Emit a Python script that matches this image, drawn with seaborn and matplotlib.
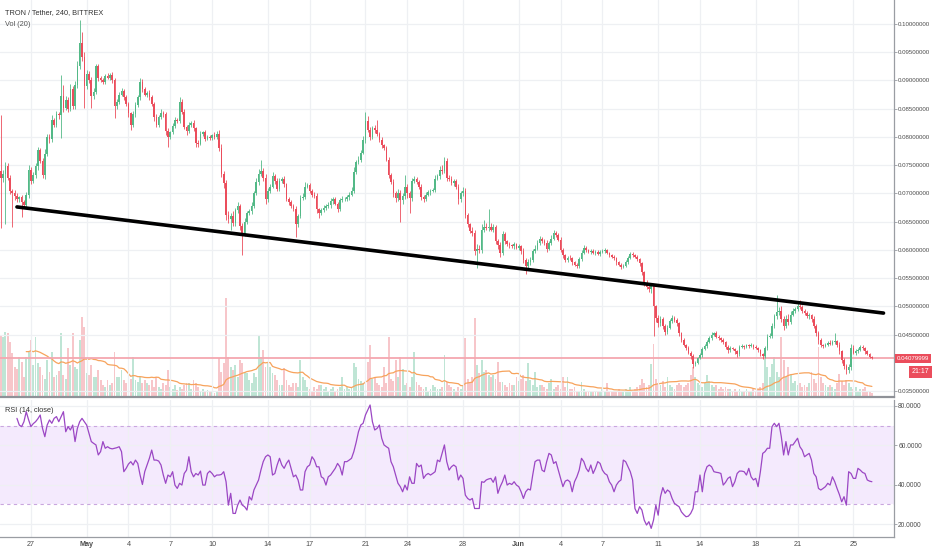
import numpy as np
import pandas as pd
import matplotlib
matplotlib.use("Agg")
import matplotlib.pyplot as plt
import seaborn as sns

# TRON / Tether 4h candles (prices in units of 0.0001 USDT)
start_time = "2018-04-24 20:00"
first_open = 740
closes = [
    727, 735, 748, 728, 705, 700, 696, 690, 693, 684,
    680, 697, 742, 722, 733, 748, 776, 758, 732, 770,
    800, 796, 830, 822, 840, 838, 872, 852, 866, 850,
    885, 855, 892, 925, 966, 942, 890, 912, 900, 872,
    880, 925, 905, 900, 898, 908, 905, 910, 900, 855,
    862, 875, 882, 870, 858, 842, 822, 840, 856, 870,
    898, 885, 875, 878, 870, 858, 835, 822, 835, 843,
    840, 810, 800, 808, 820, 830, 828, 862, 845, 818,
    810, 822, 825, 815, 790, 788, 805, 808, 797, 800,
    798, 803, 800, 806, 780, 735, 718, 662, 655, 660,
    648, 670, 678, 642, 630, 650, 665, 668, 678, 700,
    720, 735, 740, 728, 690, 705, 712, 730, 722, 708,
    722, 725, 716, 690, 684, 678, 672, 645, 660, 692,
    694, 712, 714, 705, 698, 696, 672, 665, 670, 674,
    678, 680, 686, 690, 682, 672, 688, 690, 690, 693,
    698, 705, 738, 755, 760, 772, 795, 828, 812, 800,
    815, 812, 805, 795, 785, 780, 760, 732, 720, 700,
    692, 700, 688, 695, 712, 700, 692, 722, 725, 720,
    712, 694, 690, 698, 702, 705, 706, 726, 730, 742,
    740, 758, 728, 725, 718, 722, 712, 690, 700, 705,
    662, 645, 634, 630, 598, 602, 600, 636, 640, 638,
    641, 636, 640, 615, 608, 595, 628, 615, 610, 608,
    606, 610, 604, 606, 598, 582, 572, 578, 582, 598,
    602, 612, 620, 616, 612, 602, 612, 620, 630, 627,
    618, 600, 590, 582, 586, 585, 578, 574, 572, 584,
    595, 604, 600, 596, 598, 594, 597, 592, 596, 598,
    600, 594, 590, 587, 585, 578, 574, 570, 572, 578,
    586, 593, 590, 587, 584, 576, 560, 542, 535, 530,
    536, 500, 480, 470, 478, 465, 455, 462, 474, 480,
    476, 470, 452, 440, 432, 426, 418, 412, 398, 400,
    408, 414, 425, 430, 437, 444, 450, 452, 446, 444,
    440, 436, 428, 422, 426, 424, 420, 415, 428, 430,
    428, 431, 430, 432, 428, 426, 422, 416, 412, 426,
    446, 448, 465, 482, 490, 492, 478, 466, 478, 472,
    485, 492, 495, 500, 498, 492, 488, 482, 484, 478,
    466, 452, 440, 432, 430, 432, 435, 434, 436, 438,
    432, 420, 405, 394, 388, 392, 426, 418, 420, 422,
    428, 426, 420, 416, 410, 408,
]
upper_wick = [
    99, 6, 8, 5, 4, 3, 6, 4, 3, 5, 4, 6, 8, 5, 4, 6, 7, 5, 4, 8,
    6, 5, 9, 4, 6, 5, 38, 20, 6, 5, 8, 6, 7, 9, 41, 20, 8, 6, 5, 7,
    6, 5, 4, 3, 5, 4, 6, 3, 5, 4, 6, 5, 4, 3, 5, 4, 3, 6, 5, 4,
    7, 5, 4, 3, 5, 4, 3, 5, 4, 6, 3, 4, 5, 3, 4, 5, 3, 9, 5, 4,
    3, 4, 3, 5, 3, 4, 5, 3, 4, 3, 4, 3, 5, 4, 6, 8, 5, 6, 7, 5,
    8, 5, 6, 4, 5, 6, 4, 5, 6, 5, 8, 9, 19, 5, 6, 4, 5, 8, 4, 5,
    6, 4, 5, 3, 4, 5, 3, 6, 4, 5, 6, 9, 5, 4, 3, 4, 5, 3, 4, 5,
    3, 4, 5, 3, 4, 3, 4, 5, 3, 4, 5, 6, 8, 5, 6, 5, 7, 17, 9, 6,
    5, 6, 18, 4, 5, 3, 4, 5, 4, 6, 5, 8, 6, 5, 21, 4, 5, 6, 5, 4,
    3, 4, 3, 5, 4, 3, 4, 6, 5, 6, 8, 6, 5, 4, 5, 3, 4, 5, 4, 6,
    5, 4, 3, 6, 5, 8, 6, 9, 12, 8, 32, 6, 5, 4, 5, 6, 5, 4, 3, 4,
    3, 4, 3, 4, 3, 5, 4, 6, 5, 4, 6, 5, 4, 3, 4, 5, 4, 6, 5, 4,
    3, 4, 3, 2, 3, 4, 3, 2, 3, 4, 5, 4, 3, 2, 3, 4, 3, 2, 3, 4,
    3, 2, 3, 2, 3, 2, 3, 2, 3, 4, 3, 4, 3, 2, 3, 2, 3, 2, 4, 3,
    5, 4, 3, 4, 5, 3, 4, 5, 3, 4, 3, 4, 3, 2, 3, 2, 3, 2, 3, 4,
    3, 4, 3, 4, 3, 4, 5, 3, 4, 3, 2, 3, 2, 3, 4, 2, 3, 2, 3, 4,
    2, 3, 2, 3, 2, 3, 2, 3, 2, 4, 5, 4, 6, 5, 30, 6, 8, 5, 6, 9,
    6, 5, 4, 5, 11, 5, 4, 3, 4, 3, 4, 3, 4, 3, 2, 3, 4, 5, 4, 14,
    3, 4, 3, 4, 3, 6, 8, 5, 4, 5, 4, 3, 2, 3, 2, 2,
]
lower_wick = [
    88, 6, 90, 5, 6, 60, 8, 5, 6, 26, 5, 4, 6, 5, 4, 5, 6, 4, 5, 6,
    4, 6, 5, 4, 5, 6, 40, 8, 5, 6, 4, 5, 6, 5, 4, 8, 39, 6, 5, 21,
    5, 4, 6, 3, 5, 4, 3, 5, 4, 21, 6, 4, 3, 5, 4, 6, 10, 5, 4, 3,
    4, 5, 3, 4, 5, 3, 6, 5, 4, 3, 5, 6, 18, 4, 3, 5, 4, 3, 5, 4,
    6, 3, 4, 5, 7, 6, 3, 4, 5, 3, 4, 3, 4, 3, 5, 6, 8, 9, 8, 20,
    6, 5, 4, 7, 39, 5, 4, 3, 5, 4, 3, 5, 4, 6, 8, 5, 4, 3, 5, 4,
    3, 4, 5, 4, 5, 3, 4, 22, 5, 4, 3, 4, 3, 4, 5, 4, 6, 8, 4, 3,
    4, 3, 5, 4, 3, 5, 4, 3, 4, 3, 4, 3, 5, 4, 3, 4, 3, 5, 4, 6,
    4, 5, 3, 4, 5, 4, 3, 5, 4, 6, 8, 5, 38, 6, 5, 8, 27, 5, 4, 3,
    4, 5, 6, 4, 3, 4, 3, 4, 3, 4, 5, 4, 6, 3, 4, 5, 4, 8, 5, 4,
    6, 5, 4, 5, 8, 31, 6, 5, 4, 3, 4, 3, 4, 5, 6, 8, 5, 4, 3, 4,
    3, 4, 3, 4, 5, 6, 14, 5, 4, 3, 4, 3, 4, 3, 4, 5, 3, 4, 3, 4,
    3, 4, 5, 3, 4, 3, 4, 3, 5, 4, 3, 2, 3, 2, 3, 2, 3, 2, 3, 2,
    3, 2, 3, 2, 3, 4, 3, 4, 3, 2, 3, 2, 3, 2, 3, 4, 5, 6, 5, 4,
    6, 52, 8, 6, 5, 6, 5, 4, 3, 4, 3, 4, 5, 4, 3, 4, 3, 5, 8, 4,
    3, 2, 3, 2, 3, 2, 3, 2, 3, 4, 3, 2, 3, 4, 3, 2, 4, 5, 3, 2,
    3, 2, 3, 2, 3, 2, 3, 4, 5, 3, 4, 3, 4, 3, 4, 5, 6, 8, 4, 5,
    4, 3, 4, 3, 2, 3, 4, 3, 4, 5, 4, 5, 6, 4, 3, 2, 3, 2, 3, 2,
    4, 5, 6, 5, 8, 6, 4, 3, 4, 3, 2, 3, 4, 3, 2, 2,
]
volumes = [
    62, 60, 65, 64, 55, 44, 30, 28, 40, 35, 20, 40, 45, 57, 32, 60, 34, 30, 22, 18,
    37, 25, 45, 20, 22, 26, 64, 22, 18, 49, 32, 64, 30, 28, 57, 80, 70, 24, 22, 32,
    20, 20, 27, 17, 12, 10, 17, 12, 14, 45, 20, 20, 27, 17, 14, 24, 18, 40, 17, 15,
    20, 14, 17, 14, 12, 17, 10, 20, 10, 8, 14, 12, 27, 10, 8, 12, 7, 10, 8, 12,
    14, 14, 8, 17, 14, 10, 6, 8, 5, 7, 6, 5, 4, 6, 39, 25, 34, 99, 40, 30,
    27, 32, 20, 37, 34, 25, 24, 17, 14, 24, 20, 62, 40, 47, 30, 34, 30, 24, 22, 17,
    12, 12, 29, 17, 12, 10, 14, 14, 10, 37, 20, 17, 10, 8, 6, 10, 8, 12, 12, 8,
    10, 6, 8, 10, 6, 8, 10, 20, 8, 10, 8, 10, 34, 30, 18, 16, 14, 54, 35, 52,
    18, 20, 14, 12, 10, 30, 14, 60, 18, 16, 37, 20, 40, 28, 12, 14, 10, 20, 45, 15,
    12, 10, 8, 10, 6, 8, 12, 10, 8, 8, 10, 42, 15, 12, 10, 8, 6, 10, 8, 12,
    59, 18, 14, 20, 79, 32, 24, 37, 25, 27, 22, 20, 22, 18, 35, 15, 15, 12, 10, 14,
    12, 12, 20, 16, 18, 22, 16, 34, 17, 12, 25, 10, 12, 12, 10, 8, 14, 18, 8, 10,
    12, 8, 20, 10, 20, 8, 8, 10, 6, 6, 15, 8, 6, 5, 5, 6, 5, 6, 6, 8,
    6, 14, 6, 5, 5, 6, 8, 5, 6, 8, 6, 10, 6, 8, 10, 12, 18, 14, 10, 12,
    33, 53, 18, 14, 12, 16, 10, 20, 12, 10, 8, 12, 14, 12, 10, 12, 14, 22, 30, 20,
    14, 12, 10, 14, 22, 16, 12, 10, 12, 8, 10, 8, 10, 8, 8, 6, 8, 6, 8, 6,
    6, 8, 5, 6, 8, 6, 8, 10, 14, 43, 30, 20, 33, 40, 25, 20, 60, 37, 20, 30,
    22, 14, 16, 12, 14, 10, 12, 10, 14, 25, 18, 14, 50, 20, 14, 12, 10, 12, 10, 8,
    14, 23, 16, 12, 17, 14, 10, 8, 10, 6, 8, 8, 10, 6, 5, 4,
]
rsi_values = [
    73.7, 70.3, 69.5, 72.0, 77.1, 73.0, 69.5, 71.0, 72.0, 73.5, 75.4, 68.6, 64.4,
    70.3, 72.9, 71.2, 73.7, 74.6, 72.0, 74.6, 77.1, 66.9, 69.5,
    67.8, 70.3, 61.9, 68.6, 72.0, 73.7, 72.0, 70.3, 66.0, 61.9, 61.0, 60.2,
    55.1, 56.8, 61.9, 58.5, 59.3, 58.5, 58.2, 58.5, 58.8, 59.3, 56.8, 46.6,
    48.3, 50.5, 51.7, 50.0, 52.5, 50.8, 44.9, 40.1, 46.6, 50.0, 53.4,
    57.6, 52.5, 52.5, 52.0, 50.0, 44.9, 40.7, 44.9, 44.0, 46.6,
    39.8, 38.1, 40.7, 39.8, 45.7, 47.4, 54.2, 46.6, 44.0, 45.7,
    44.9, 46.9, 39.8, 39.8, 45.7, 46.9, 45.7, 44.0, 44.9, 44.9,
    45.2, 46.6, 41.5, 29.6, 35.6, 25.4, 25.4, 29.6, 32.2, 29.6,
    28.8, 27.1, 33.9, 32.2, 37.3, 39.8, 42.4, 47.4, 51.7, 54.2,
    55.1, 54.2, 44.9, 45.7, 50.0, 53.4, 50.0, 48.3, 50.8, 52.5,
    48.3, 44.0, 44.9, 42.4, 37.3, 37.3, 46.6, 49.1, 50.0, 54.2,
    52.5, 49.1, 49.1, 44.0, 43.2, 39.8, 44.0, 44.9, 46.6, 48.3,
    50.8, 49.1, 44.9, 51.7, 51.7, 52.5, 53.4, 56.8, 61.5, 66.9, 70.3,
    71.2, 75.4, 78.0, 80.5, 72.0, 67.8, 68.6, 70.3, 63.6, 60.2,
    59.3, 58.5, 51.7, 49.1, 45.0, 40.7, 39.0, 36.4, 39.8, 37.3, 44.0,
    40.7, 40.7, 50.8, 49.1, 50.0, 43.2, 44.9, 45.7, 44.9, 45.7,
    46.6, 52.5, 51.7, 55.9, 60.2, 51.7, 47.4, 49.1, 50.0, 49.1,
    42.4, 44.9, 43.2, 34.7,
    33.0, 32.2, 33.0, 27.9, 27.9, 27.9, 41.5, 41.2, 42.4,
    42.9, 43.2, 41.2, 44.0, 35.6, 39.0, 41.5, 44.9, 39.8, 40.7,
    40.1, 41.5, 39.8, 39.0, 36.4, 33.0, 36.4, 37.8, 37.3, 44.9,
    51.7, 52.5, 52.5, 47.4, 46.6, 51.7, 55.9, 55.1, 50.8, 51.7,
    47.4, 43.2, 39.0, 41.8, 42.4, 41.5, 36.4, 41.5, 44.0, 47.4,
    53.4, 51.7, 48.3, 46.6, 50.0, 45.7, 48.3, 51.7, 50.8, 47.4,
    45.7, 44.9, 41.5, 39.8, 36.4, 39.8, 41.5, 42.4, 52.5, 51.7,
    49.1, 46.6, 42.4, 27.9, 25.4, 28.8, 27.1, 22.0, 19.5, 21.2,
    17.8, 22.0, 29.6, 24.5, 33.9, 38.5, 35.6, 37.3, 36.4, 33.0,
    30.5, 29.6, 28.8, 26.2, 24.8, 23.7, 24.0, 25.4, 27.9, 36.4, 36.4, 44.9,
    36.4, 45.7, 49.1, 50.0, 49.1, 46.6, 46.3, 46.1, 45.7, 39.8, 41.2,
    43.2, 44.0, 39.0, 41.5, 45.7, 46.9, 46.9, 46.6, 44.9, 48.3,
    44.0, 42.4, 43.2, 39.0, 46.6, 55.9, 56.8, 58.5, 58.5, 69.5,
    71.2, 69.5, 71.2, 64.4, 55.1, 61.9, 55.1, 60.2, 60.2, 61.9,
    63.6, 59.3, 57.6, 54.2, 55.1, 55.9, 52.5, 45.7, 44.0, 38.1,
    37.3, 38.1, 39.0, 40.7, 39.8, 44.0, 41.5, 38.1, 35.0, 31.3, 33.9,
    29.6, 46.6, 45.7, 43.2, 43.2, 48.3, 47.4, 46.2, 45.7, 42.4,
    41.8, 41.5,
]
tick_dates = ["2018-04-27", "2018-05-01", "2018-05-04", "2018-05-07", "2018-05-10",
              "2018-05-14", "2018-05-17", "2018-05-21", "2018-05-24", "2018-05-28",
              "2018-06-01", "2018-06-04", "2018-06-07", "2018-06-11", "2018-06-14",
              "2018-06-18", "2018-06-21", "2018-06-25"]
tick_labels = ["27", "May", "4", "7", "10", "14", "17", "21", "24", "28",
               "Jun", "4", "7", "11", "14", "18", "21", "25"]
trend_times = ["2018-04-26 00:00", "2018-06-27 04:00"]
trend_prices = [0.0676, 0.0488]
price_label = "0.04079999"
countdown = "21:17"

assert len(closes) == len(upper_wick) == len(lower_wick) == len(volumes), (
    len(closes), len(upper_wick), len(lower_wick), len(volumes))

t0 = pd.Timestamp(start_time)
step = pd.Timedelta("4h")
df = pd.DataFrame({"time": pd.date_range(t0, periods=len(closes), freq="4h")})
df["x"] = np.arange(len(df))
df["close"] = np.array(closes) / 1e4
df["open"] = df["close"].shift(1).fillna(first_open / 1e4)
df["high"] = np.maximum(df["open"], df["close"]) + np.array(upper_wick) / 1e4
df["low"] = np.minimum(df["open"], df["close"]) - np.array(lower_wick) / 1e4
df["up"] = df["close"] >= df["open"]
df["volume"] = volumes
df["vol_ma"] = df["volume"].rolling(20, min_periods=12).mean()

n = len(df)
rsi_df = pd.DataFrame({"x": np.arange(n - len(rsi_values), n), "rsi": rsi_values})

def to_x(ts):
    return (pd.Timestamp(ts) - t0) / step

UP, DOWN = "#53b987", "#eb4d5c"
UP_VOL, DOWN_VOL = "#bfe5d5", "#f7c6ca"
GRID = "#eef0f3"
TXT = "#4c4c4c"
AXIS_FS = 4.4

sns.set_theme(style="white")
plt.rcParams["font.family"] = ["Liberation Sans", "DejaVu Sans"]

fig = plt.figure(figsize=(9.32, 5.5), dpi=100)
ax = fig.add_axes([0, 0.2782, 0.9592, 0.7218])
axv = ax.twinx()
ax.set_zorder(axv.get_zorder() + 1)
ax.patch.set_visible(False)

# volume
vcol = np.where(df["up"], UP_VOL, DOWN_VOL)
axv.bar(df["x"], df["volume"], width=0.8, color=vcol, linewidth=0)
sns.lineplot(data=df, x="x", y="vol_ma", ax=axv, color="#f7a35c", linewidth=0.9)
axv.set_ylim(0, df["volume"].max() * 4.0)
axv.set_yticks([])
axv.set_ylabel("")
for s in axv.spines.values():
    s.set_visible(False)

# candles
ccol = np.where(df["up"], UP, DOWN)
ax.vlines(df["x"], df["low"], df["high"], colors=ccol, linewidth=0.6, zorder=3)
body = np.maximum((df["close"] - df["open"]).abs(), 0.00002)
ax.bar(df["x"], body, bottom=np.minimum(df["open"], df["close"]), width=0.7,
       color=ccol, linewidth=0, zorder=3)

last = df["close"].iloc[-1]
ax.axhline(last, color="#f4a7b0", linewidth=1.3, zorder=2)
ax.plot([to_x(t) for t in trend_times], trend_prices, color="black",
        linewidth=2.6, solid_capstyle="round", zorder=4)

xpos = [to_x(d) for d in tick_dates]
ax.set_xlim(-0.3, 384.5)
ax.set_ylim(0.03394, 0.10425)
yt = [v / 1000 for v in range(35, 101, 5) if v != 40]
ax.yaxis.tick_right()
ax.set_yticks(yt, [f"{v:.8f}" for v in yt])
ax.set_xticks(xpos)
ax.tick_params(axis="x", labelbottom=False, length=0)
ax.tick_params(axis="y", labelsize=AXIS_FS, labelcolor=TXT, length=2.0, width=0.6,
               color="#9a9da3", pad=1.0)
ax.grid(True, color=GRID, linewidth=0.9)
for side in ["top", "left"]:
    ax.spines[side].set_visible(False)
ax.spines["right"].set_color("#9a9da3")
ax.spines["right"].set_linewidth(0.9)
ax.spines["bottom"].set_color("#8f9298")
ax.spines["bottom"].set_linewidth(1.6)

ax.text(1.003, last, price_label, transform=ax.get_yaxis_transform(),
        fontsize=AXIS_FS, color="white", va="center", ha="left", zorder=10,
        bbox=dict(boxstyle="square,pad=0.35", fc=DOWN, ec="none"), clip_on=False)
ax.annotate(countdown, xy=(1.0, last), xycoords=ax.get_yaxis_transform(),
            xytext=(25.3, -9.8), textcoords="offset points", fontsize=AXIS_FS + 0.6,
            color="white", va="center", ha="right", zorder=10,
            bbox=dict(boxstyle="square,pad=0.35", fc=DOWN, ec="none"),
            annotation_clip=False)

# RSI pane
ax_r = fig.add_axes([0, 0.0236, 0.9592, 0.249], sharex=ax)
ax_r.axhspan(30, 70, color="#f4eafd", linewidth=0, zorder=0)
for lvl in (70, 30):
    ax_r.axhline(lvl, color="#c9a6df", linewidth=0.8, dashes=(3, 3), zorder=1)
sns.lineplot(data=rsi_df, x="x", y="rsi", ax=ax_r, color="#9b47c4", linewidth=0.9)
ax_r.set_ylim(13.4, 83.0)
ax_r.yaxis.tick_right()
ax_r.set_yticks([20, 40, 60, 80], ["20.0000", "40.0000", "60.0000", "80.0000"])
ax_r.set_xticks(xpos, tick_labels)
for lab in ax_r.get_xticklabels():
    if lab.get_text() in ("May", "Jun"):
        lab.set_fontweight("bold")
ax_r.tick_params(axis="x", labelsize=5.2, labelcolor=TXT, length=0, pad=3)
ax_r.tick_params(axis="y", labelsize=AXIS_FS + 0.4, labelcolor=TXT, length=2.0,
                 width=0.6, color="#9a9da3", pad=1.0)
ax_r.set_xlabel("")
ax_r.set_ylabel("")
ax.set_xlabel("")
ax.set_ylabel("")
ax_r.grid(True, color=GRID, linewidth=0.9)
for side in ["top", "left"]:
    ax_r.spines[side].set_visible(False)
for side in ["right", "bottom"]:
    ax_r.spines[side].set_color("#9a9da3")
    ax_r.spines[side].set_linewidth(0.9)

fig.text(0.005, 0.978, "TRON / Tether, 240, BITTREX", fontsize=5.3, color="#333333",
         va="center", ha="left")
fig.text(0.005, 0.955, "Vol (20)", fontsize=5.3, color="#555555", va="center", ha="left")
fig.text(0.005, 0.2545, "RSI (14, close)", fontsize=5.3, color="#333333",
         va="center", ha="left")

fig.savefig("out.png", dpi=100, facecolor="white")
